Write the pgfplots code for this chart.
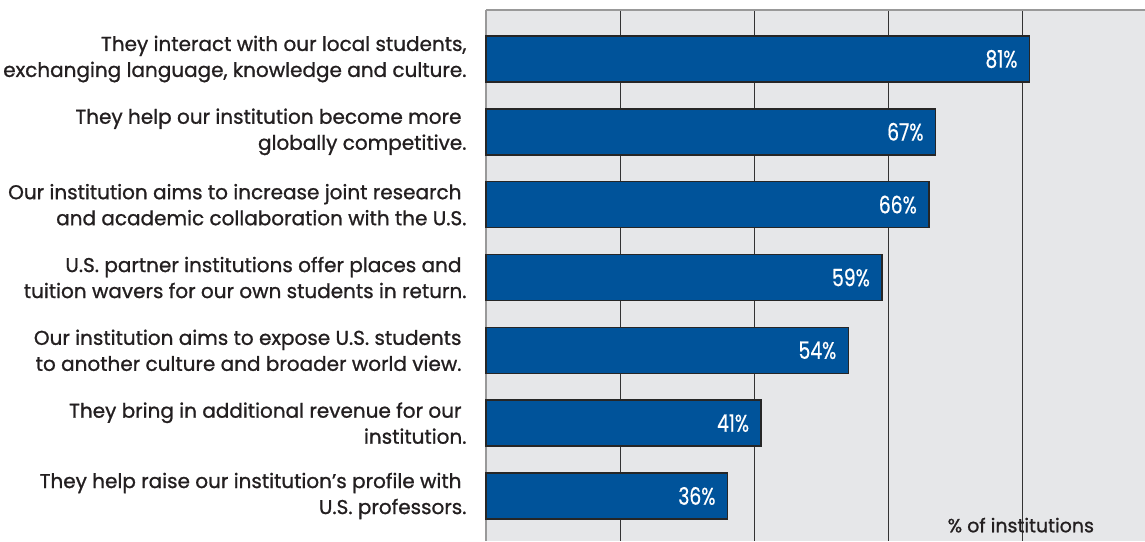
\documentclass[border=0pt]{standalone}
\usepackage{pgfplots}
\pgfplotsset{compat=1.18}
\usepackage{fontspec}
\setmainfont{Poppins}[FakeBold=1.0]
\newfontfamily\numfont{Poppins}[FakeStretch=0.78,FakeBold=0.5]
\definecolor{barblue}{RGB}{0,83,154}
\definecolor{bggray}{RGB}{230,231,233}
\definecolor{txt}{RGB}{35,31,32}
\newcommand{\tr}{\hspace*{5pt}}
\begin{document}
\begin{tikzpicture}
\path[use as bounding box] (-486pt,0pt) rectangle (659pt,541pt);
\begin{axis}[
  at={(0pt,0pt)}, anchor=south west,
  width=659pt, height=531pt, scale only axis,
  xbar, bar width=46pt,
  xmin=0, xmax=98.2,
  ymin=-0.673, ymax=6.618, y dir=reverse,
  ytick={0,...,6},
  yticklabels={
    {They interact with our local students,\\exchanging language, knowledge and culture.},
    {They help our institution become more\tr\\globally competitive.},
    {Our institution aims to increase joint research\tr\\and academic collaboration with the U.S.},
    {U.S. partner institutions offer places and\tr\\tuition wavers for our own students in return.},
    {Our institution aims to expose U.S. students\tr\\to another culture and broader world view.\tr},
    {They bring in additional revenue for our\tr\\institution.},
    {They help raise our institution's profile with\tr\\U.S. professors.}
  },
  yticklabel style={align=right, anchor=east, xshift=-16pt, text=txt,
    font=\fontsize{20}{26}\selectfont},
  xtick={20,40,60,80}, xticklabels={},
  major tick length=0pt,
  xmajorgrids,
  major grid style={color=black!80, line width=1.2pt},
  axis x line*=top, axis y line*=left,
  axis line style={color=black!40, line width=2pt, -},
  axis background/.style={fill=bggray},
  clip=false,
  /pgf/number format/assume math mode=true,
  nodes near coords={\pgfmathprintnumber{\pgfplotspointmeta}\%},
  every node near coord/.append style={anchor=east, xshift=-8pt, text=white,
    font=\numfont\fontsize{24}{24}\selectfont},
]
\addplot[fill=barblue, draw=black!85, line width=1.5pt] coordinates {
  (81,0) (67,1) (66,2) (59,3) (54,4) (41,5) (36,6)
};
\node[text=txt, font=\fontsize{19}{19}\selectfont] at (axis cs:79.7,6.40) {\% of institutions};
\end{axis}
\end{tikzpicture}
\end{document}
